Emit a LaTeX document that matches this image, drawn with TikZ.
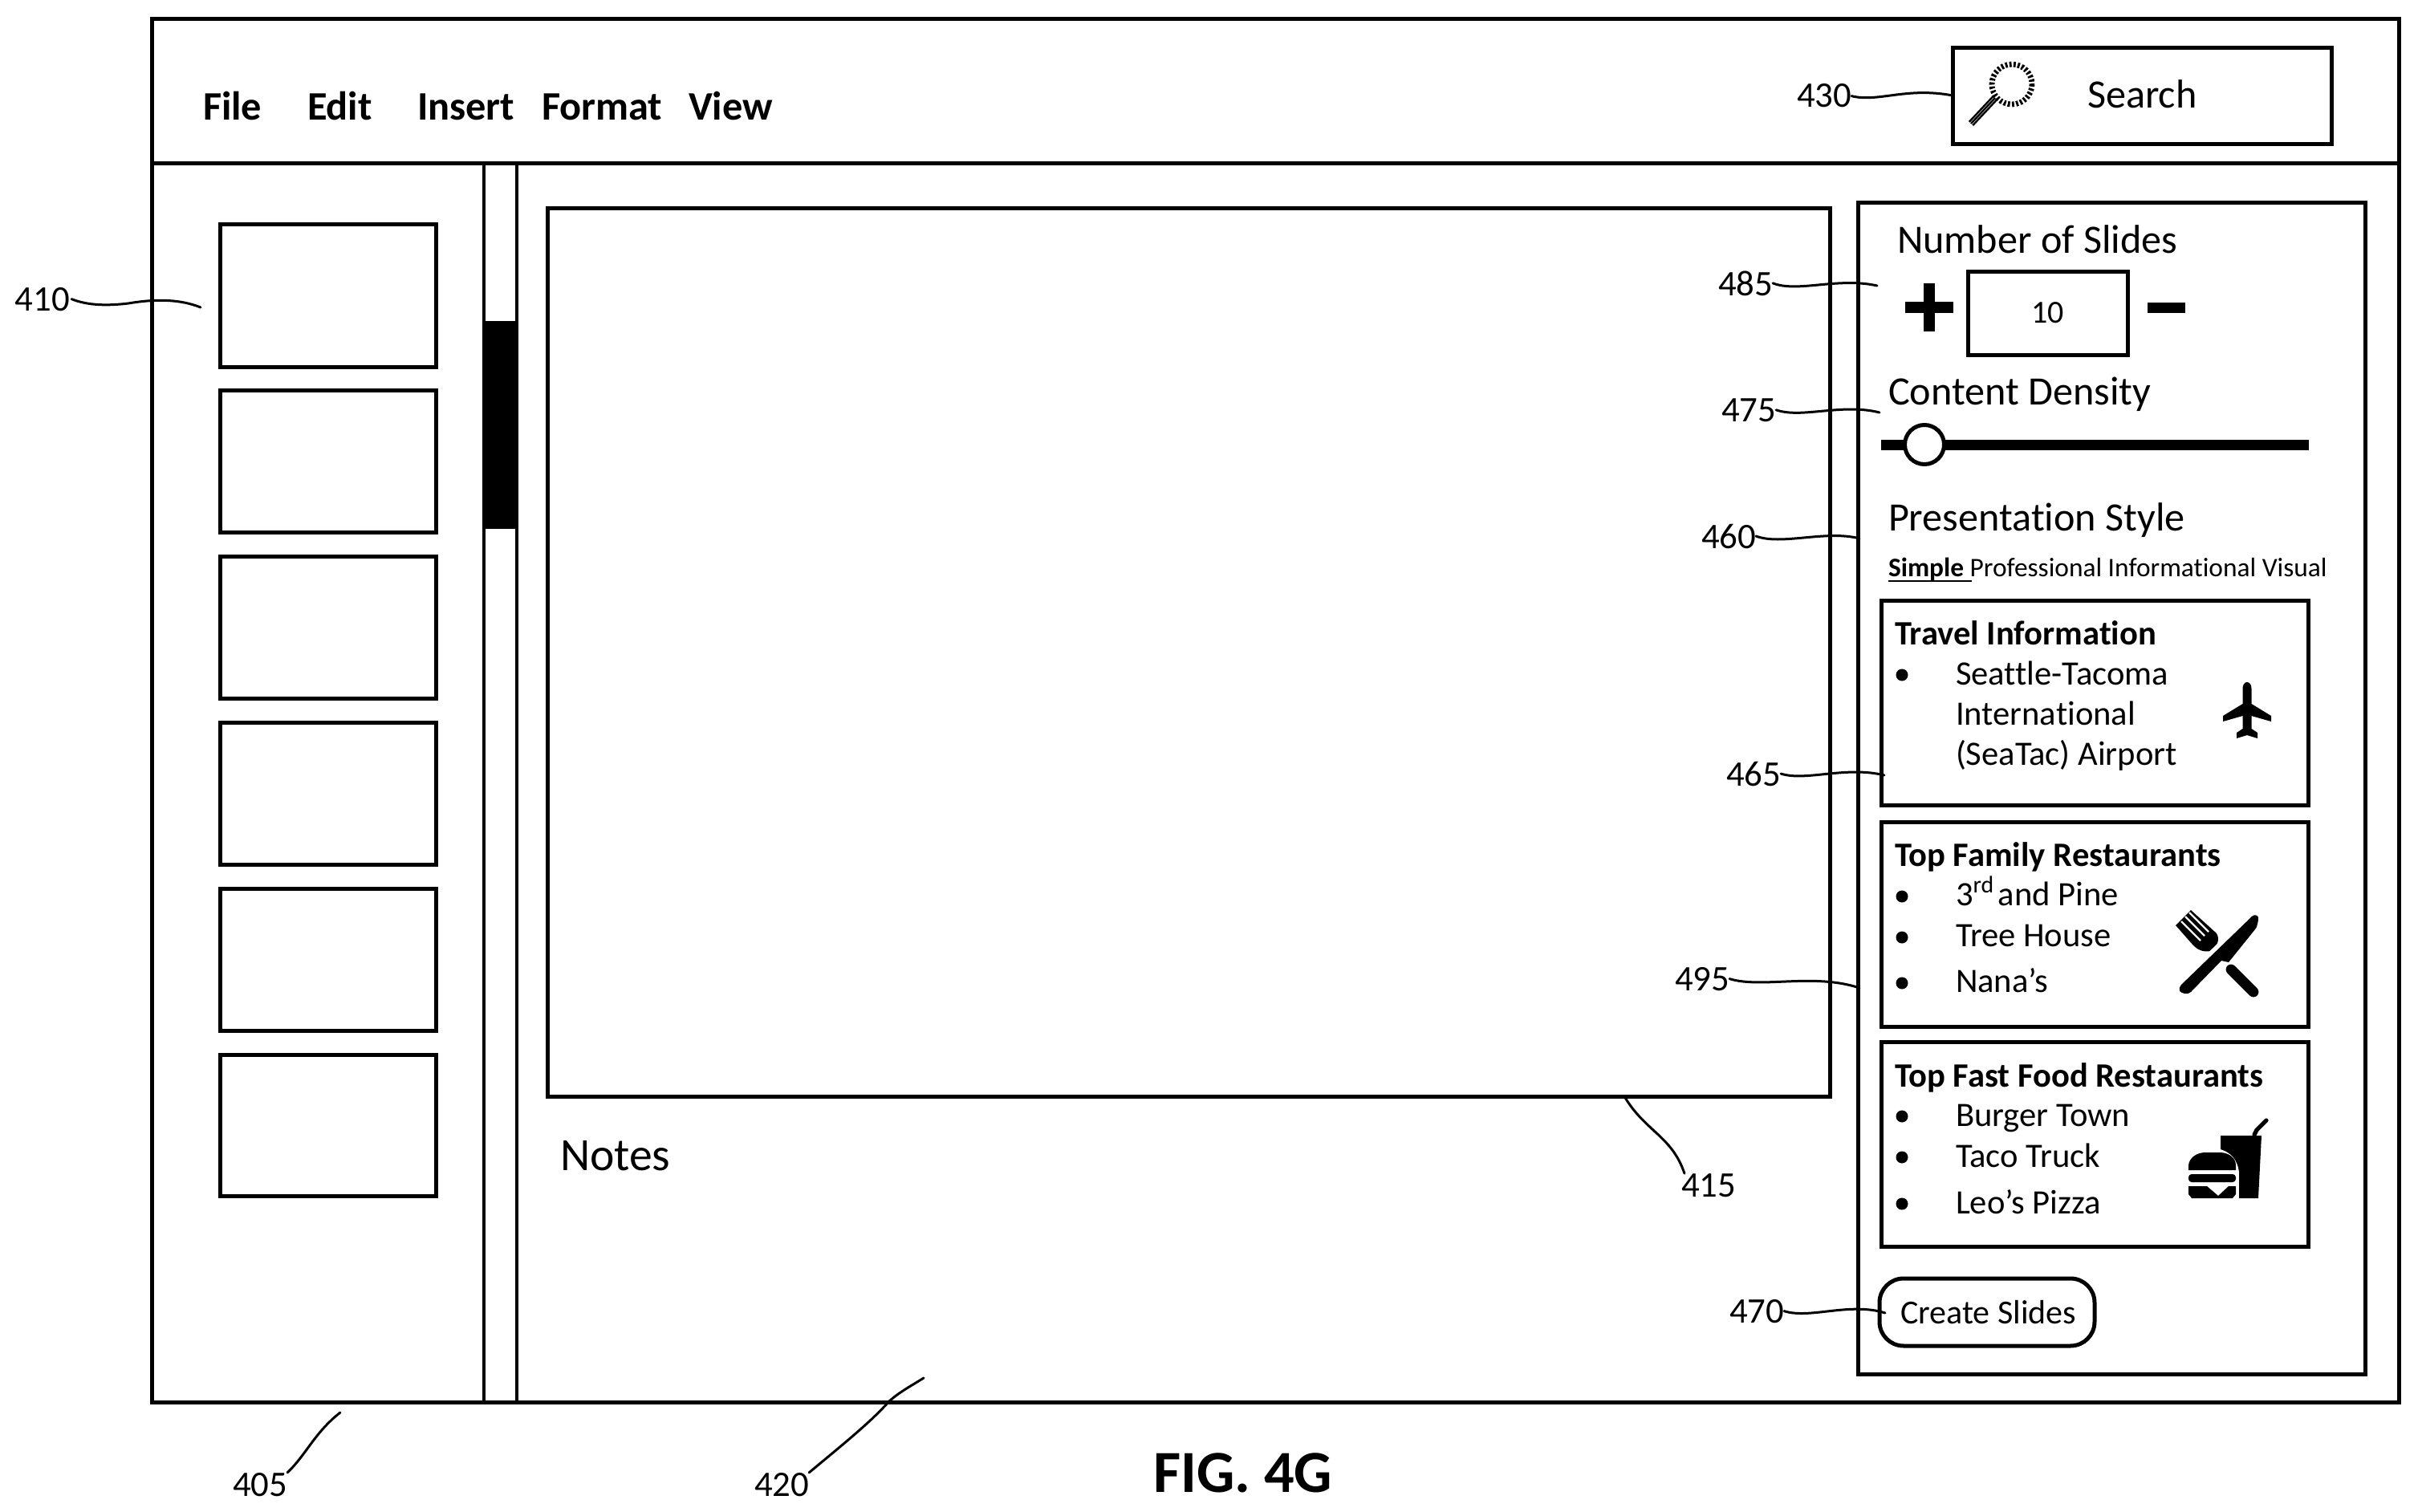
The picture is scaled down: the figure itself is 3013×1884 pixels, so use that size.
\documentclass[tikz,border=0pt]{standalone}
\usepackage{fontspec}
\setmainfont[Ligatures=NoCommon]{Carlito}
\newcommand{\pxbox}[6][]{% name x1 y1 x2 y2
  \pgfmathsetmacro{\pxw}{(#5-#3)*0.25}\pgfmathsetmacro{\pxh}{(#6-#4)*0.25}
  \node[uibox,minimum width=\pxw pt,minimum height=\pxh pt,#1] (#2) at ({(#3+#5)/2},{(#4+#6)/2}) {};}
\tikzset{
  x=0.25pt,y=-0.25pt,
  uibox/.style={draw=black,line width=1.25pt,inner sep=0pt,outer sep=0pt,rectangle},
  tx/.style={anchor=base west,inner sep=0pt,outer sep=0pt,text=black},
  menutx/.style={tx,font=\fontsize{12.6pt}{14pt}\bfseries\selectfont},
  reftx/.style={tx,font=\fontsize{11.2pt}{13pt}\selectfont},
  headtx/.style={tx,font=\fontsize{12.55pt}{14pt}\selectfont},
  itemtx/.style={tx,font=\fontsize{10.65pt}{12pt}\selectfont},
  cardtitle/.style={tx,font=\fontsize{10.65pt}{12pt}\bfseries\selectfont},
  leader/.style={draw=black,line width=0.75pt,line cap=round},
  bul/.style={circle,fill=black,inner sep=0pt,minimum size=15*0.25pt},
  solidicon/.style={fill=black,draw=none},
}
\begin{document}
\begin{tikzpicture}
\useasboundingbox (0,0) rectangle (3013,1884);
% window
\pxbox{window}{189}{23}{2989}{1747}
\coordinate (menuL) at (189,203); \coordinate (menuR) at (2989,203);
\draw[line width=1.25pt] (menuL) -- (menuR);
\coordinate (s1t) at (603,203); \coordinate (s1b) at (603,1747);
\coordinate (s2t) at (644,203); \coordinate (s2b) at (644,1747);
\draw[line width=0.9pt] (s1t) -- (s1b);
\draw[line width=0.9pt] (s2t) -- (s2b);
\pxbox[fill=black,line width=0pt]{thumb}{603}{400}{644}{658}
% menu
\node[menutx] (mfile) at (253,150) {File};
\node[menutx] (medit) at (383,150) {Edit};
\node[menutx] (minsert) at (520,150) {Insert};
\node[menutx] (mformat) at (675,150) {Format};
\node[menutx] (mview) at (858,150) {View};
% search
\pxbox{search}{2433}{59}{2905}{179}
\node[tx,font=\fontsize{12.55pt}{14pt}\selectfont] (searchtx) at (2601,135) {Search};
\coordinate (lensc) at (2507,105);
\draw[line width=1.7pt,dash pattern=on 0.7pt off 0.6pt] (lensc) circle (25);
\coordinate (h1) at (2486,122); \coordinate (h2) at (2456,154);
\draw[line width=0.6pt] ([xshift=-0.55pt,yshift=0.55pt]h1) -- ([xshift=-0.55pt,yshift=0.55pt]h2);
\draw[line width=0.6pt] (h1) -- (h2);
\draw[line width=0.6pt] ([xshift=0.55pt,yshift=-0.55pt]h1) -- ([xshift=0.55pt,yshift=-0.55pt]h2);
% thumbnails
\pxbox{t1}{274}{279}{543}{457}
\pxbox{t2}{274}{486}{543}{663}
\pxbox{t3}{274}{693}{543}{870}
\pxbox{t4}{274}{900}{543}{1077}
\pxbox{t5}{274}{1107}{543}{1284}
\pxbox{t6}{274}{1314}{543}{1490}
% slide
\pxbox{slide}{682}{259}{2280}{1366}
\node[tx,font=\fontsize{14.4pt}{16pt}\selectfont] (notes) at (698,1458) {Notes};
% panel
\pxbox{panel}{2315}{252}{2947}{1712}
\node[headtx] (nslides) at (2364,315) {Number of Slides};
\coordinate (plusc) at (2404,383);
\fill[solidicon] (2374,376) rectangle (2434,390);
\fill[solidicon] (2397,353) rectangle (2411,413);
\pxbox{numbox}{2452}{338}{2651}{442}
\node[inner sep=0pt,font=\fontsize{10pt}{12pt}\selectfont] (ten) at (numbox.center) {10};
\fill[solidicon] (2676,377) rectangle (2723,390);
\node[headtx] (density) at (2353,504) {Content Density};
\coordinate (sl1) at (2344,554.5); \coordinate (sl2) at (2877,554.5);
\draw[line width=3.25pt] (sl1) -- (sl2);
\node[circle,draw=black,fill=white,line width=1.25pt,minimum size=49*0.25pt,inner sep=0pt] (knob) at (2398,554) {};
\node[headtx] (pstyle) at (2353,661) {Presentation Style};
\node[tx,font=\fontsize{8.35pt}{9pt}\selectfont] (styles) at (2353,718) {\textbf{Simple} Professional Informational Visual};
\coordinate (u1) at (2353,724); \coordinate (u2) at (2457,724);
\draw[line width=0.6pt] (u1) -- (u2);
% card 1
\pxbox{card1}{2344}{748}{2876}{1003}
\node[cardtitle] (c1t) at (2361,803) {Travel Information};
\node[bul] (b11) at (2370,841) {};
\node[itemtx] (c1a) at (2437,853) {Seattle-Tacoma};
\node[itemtx] (c1b) at (2437,903) {International};
\node[itemtx] (c1c) at (2437,953) {(SeaTac) Airport};
\fill[solidicon] (2800,850) .. controls (2803,850) and (2805.5,853) .. (2805.5,858)
  -- (2805.5,877) -- (2830,892) -- (2830,899) -- (2805.5,892) -- (2805.5,908)
  -- (2813,913) -- (2813,920) -- (2800,916) -- (2787,920) -- (2787,913) -- (2794.5,908)
  -- (2794.5,892) -- (2770,899) -- (2770,892) -- (2794.5,877) -- (2794.5,858)
  .. controls (2794.5,853) and (2797,850) .. (2800,850) -- cycle;
% card 2
\pxbox{card2}{2344}{1024}{2876}{1279}
\node[cardtitle] (c2t) at (2361,1079) {Top Family Restaurants};
\node[bul] (b21) at (2370,1117) {};
\node[bul] (b22) at (2370,1168) {};
\node[bul] (b23) at (2370,1225) {};
\node[itemtx] (c2a) at (2437,1128) {3\textsuperscript{rd}\kern-1.5pt{} and Pine};
\node[itemtx] (c2b) at (2437,1179) {Tree House};
\node[itemtx] (c2c) at (2437,1236) {Nana’s};
% fork
\fill[solidicon] (2711,1153) -- (2730,1134) -- (2762,1163) .. controls (2766,1170) and (2764,1178) .. (2755,1185) .. controls (2745,1187) and (2738,1183) .. (2733,1178) -- cycle;
\draw[white,line width=0.55pt] (2718,1148) -- (2742,1172);
\draw[white,line width=0.55pt] (2723,1142) -- (2747,1166);
\draw[white,line width=0.55pt] (2728,1137) -- (2752,1161);
% knife
\fill[white] (2800,1141) -- (2820,1148) -- (2782,1203) -- (2768,1203) -- (2722,1248) -- (2706,1230) -- cycle;
\draw[line width=3.2pt,line cap=round] (2780,1208) -- (2808,1236);
\fill[solidicon] (2807,1141) .. controls (2811,1139) and (2815,1141) .. (2814,1146) .. controls (2813,1152) and (2812,1156) .. (2810,1158) -- (2777,1199) -- (2768,1197)
  -- (2730,1236) .. controls (2726,1240) and (2719,1238) .. (2716,1235) .. controls (2715,1232) and (2716,1229) .. (2718,1227) -- cycle;
% card 3
\pxbox{card3}{2344}{1298}{2876}{1553}
\node[cardtitle] (c3t) at (2361,1354) {Top Fast Food Restaurants};
\node[bul] (b31) at (2370,1391) {};
\node[bul] (b32) at (2370,1442) {};
\node[bul] (b33) at (2370,1500) {};
\node[itemtx] (c3a) at (2437,1403) {Burger Town};
\node[itemtx] (c3b) at (2437,1454) {Taco Truck};
\node[itemtx] (c3c) at (2437,1512) {Leo’s Pizza};
% burger and drink
\fill[solidicon] (2727,1458) -- (2727,1452) .. controls (2728,1442) and (2738,1436) .. (2748,1436) -- (2766,1436) .. controls (2776,1436) and (2786,1442) .. (2786,1452) -- (2786,1458) -- cycle;
\fill[solidicon,rounded corners=1pt] (2727,1463) rectangle (2786,1473);
\fill[solidicon] (2727,1478) -- (2750,1478) -- (2764,1490) -- (2777,1478) -- (2786,1478) -- (2786,1488) -- (2782,1493) -- (2731,1493) -- (2727,1488) -- cycle;
\fill[solidicon] (2767,1415) -- (2818,1415) -- (2814,1493) -- (2790,1493) -- (2790,1460) .. controls (2788,1445) and (2780,1436) .. (2767,1432) -- cycle;
\draw[line width=1.3pt,line cap=round] (2809,1414) -- (2812,1408) -- (2824,1396);
% create
\pxbox[rounded corners=7.5pt]{create}{2342}{1593}{2610}{1677}
\node[tx,font=\fontsize{10.5pt}{12pt}\selectfont] (createtx) at (2368,1649) {Create Slides};
% figure caption
\node[tx,font=\fontsize{18.6pt}{20pt}\bfseries\selectfont] (fig) at (1437,1859) {FIG. 4G};
% reference labels and leaders
\node[reftx] (l410) at (19,387) {410};
\coordinate (e410) at (250,383);
\draw[leader] ([xshift=0.5pt]l410.east) .. controls (110,381) and (135,381) .. (160,378) .. controls (195,372) and (225,373) .. (e410);
\node[reftx] (l405) at (290,1864) {405};
\coordinate (e405) at (424,1760);
\draw[leader] (l405.north east) .. controls (382,1812) and (392,1785) .. (e405);
\node[reftx] (l420) at (940,1864) {420};
\coordinate (e420) at (1151,1717);
\draw[leader] (l420.north east) .. controls (1050,1800) and (1085,1772) .. (1108,1746) .. controls (1120,1735) and (1135,1727) .. (e420);
\node[reftx] (l415) at (2095,1491) {415};
\coordinate (e415) at (2024,1366);
\draw[leader] ([xshift=1pt]l415.north west) .. controls (2083,1415) and (2050,1410) .. (e415);
\node[reftx] (l430) at (2239,134) {430};
\coordinate (e430) at (search.west);
\draw[leader] (l430.east) .. controls (2340,128) and (2375,108) .. (e430);
\node[reftx] (l485) at (2141,368) {485};
\coordinate (e485) at (2339,356);
\draw[leader] (l485.east) .. controls (2240,365) and (2290,345) .. (e485);
\node[reftx] (l475) at (2145,525) {475};
\coordinate (e475) at (2342,514);
\draw[leader] (l475.east) .. controls (2245,522) and (2295,502) .. (e475);
\node[reftx] (l460) at (2120,683) {460};
\coordinate (e460) at (2317,671);
\draw[leader] (l460.east) .. controls (2220,680) and (2275,660) .. (e460);
\node[reftx] (l465) at (2151,979) {465};
\coordinate (e465) at (2348,966);
\draw[leader] (l465.east) .. controls (2250,974) and (2300,954) .. (e465);
\node[reftx] (l495) at (2087,1234) {495};
\coordinate (e495) at (2317,1231);
\draw[leader] (l495.east) .. controls (2195,1232) and (2260,1212) .. (e495);
\node[reftx] (l470) at (2155,1648) {470};
\coordinate (e470) at (2349,1636);
\draw[leader] (l470.east) .. controls (2255,1644) and (2305,1622) .. (e470);
\end{tikzpicture}
\end{document}
